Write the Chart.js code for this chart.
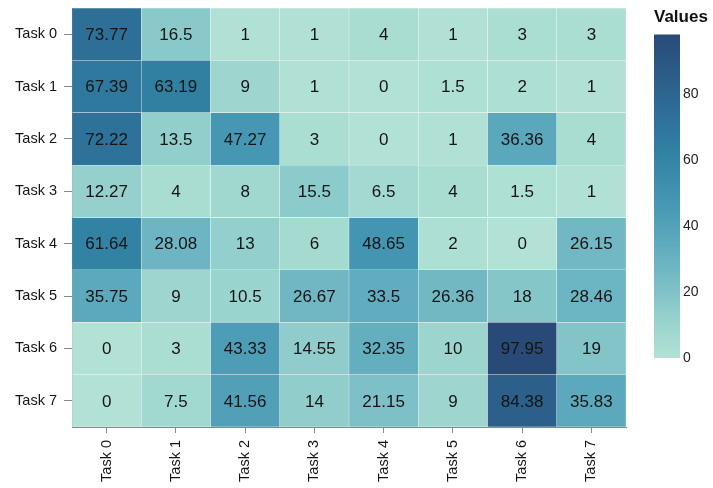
<!DOCTYPE html>
<html>
<head>
<meta charset="utf-8">
<script src="https://cdn.jsdelivr.net/npm/chart.js@4.4.0/dist/chart.umd.min.js"></script>
<style>
  html, body { margin: 0; padding: 0; background: #fff; }
  #wrap { position: relative; width: 713px; height: 488px; }
  #main { position: absolute; left: 0; top: 0; width: 713px; height: 488px; }
  #leg { position: absolute; left: 654px; top: 0; width: 59px; height: 370px; }
</style>
</head>
<body>
<div id="wrap">
  <div id="main"><canvas id="c1"></canvas></div>
  <div id="leg"><canvas id="c2"></canvas></div>
</div>
<script>
// ---- data ----
const tasks = ["Task 0", "Task 1", "Task 2", "Task 3", "Task 4", "Task 5", "Task 6", "Task 7"];
const row0 = [73.77, 16.5, 1, 1, 4, 1, 3, 3];
const row1 = [67.39, 63.19, 9, 1, 0, 1.5, 2, 1];
const row2 = [72.22, 13.5, 47.27, 3, 0, 1, 36.36, 4];
const row3 = [12.27, 4, 8, 15.5, 6.5, 4, 1.5, 1];
const row4 = [61.64, 28.08, 13, 6, 48.65, 2, 0, 26.15];
const row5 = [35.75, 9, 10.5, 26.67, 33.5, 26.36, 18, 28.46];
const row6 = [0, 3, 43.33, 14.55, 32.35, 10, 97.95, 19];
const row7 = [0, 7.5, 41.56, 14, 21.15, 9, 84.38, 35.83];
const rows = [row0, row1, row2, row3, row4, row5, row6, row7];
const legendTicks = [0, 20, 40, 60, 80];
const legendTitle = "Values";

// ---- colour scale ----
const vmin = 0;
const vmax = Math.max(...rows.flat());
const stops = [
  [0.00, [178, 226, 213]],
  [0.10, [156, 213, 206]],
  [0.20, [129, 195, 200]],
  [0.35, [95, 171, 190]],
  [0.48, [70, 151, 180]],
  [0.63, [50, 130, 164]],
  [0.75, [46, 111, 152]],
  [0.86, [44, 95, 138]],
  [1.00, [41, 74, 119]]
];
function colorFor(v) {
  const t = Math.max(0, Math.min(1, (v - vmin) / (vmax - vmin)));
  for (let i = 1; i < stops.length; i++) {
    if (t <= stops[i][0]) {
      const [t0, c0] = stops[i - 1], [t1, c1] = stops[i];
      const f = (t - t0) / (t1 - t0);
      const c = c0.map((x, k) => Math.round(x + (c1[k] - x) * f));
      return `rgb(${c[0]},${c[1]},${c[2]})`;
    }
  }
  const c = stops[stops.length - 1][1];
  return `rgb(${c[0]},${c[1]},${c[2]})`;
}

const FONT = "'Liberation Sans', Arial, Helvetica, sans-serif";

// datasets stacked bottom-to-top: last task at bottom
const datasets = rows.map((r, i) => ({ r, i })).reverse().map(({ r, i }) => ({
  label: tasks[i],
  values: r,
  data: r.map(() => 1),
  backgroundColor: r.map(v => colorFor(v)),
  borderColor: 'rgba(255,255,255,0.3)',
  borderWidth: 0.5,
  borderSkipped: false,
  barPercentage: 1,
  categoryPercentage: 1
}));

const cellLabels = {
  id: 'cellLabels',
  afterDatasetsDraw(chart) {
    const ctx = chart.ctx;
    ctx.save();
    ctx.font = `17px ${FONT}`;
    ctx.fillStyle = '#151515';
    ctx.textAlign = 'center';
    ctx.textBaseline = 'middle';
    chart.data.datasets.forEach((ds, di) => {
      const meta = chart.getDatasetMeta(di);
      meta.data.forEach((bar, j) => {
        const cy = (bar.y + bar.base) / 2;
        ctx.fillText(String(ds.values[j]), bar.x, cy + 1);
      });
    });
    ctx.restore();
  }
};

new Chart(document.getElementById('c1'), {
  type: 'bar',
  data: { labels: tasks, datasets },
  options: {
    responsive: true,
    maintainAspectRatio: false,
    animation: false,
    layout: { padding: { top: 8, right: 87, left: 0, bottom: 0 } },
    plugins: { legend: { display: false }, tooltip: { enabled: false } },
    scales: {
      x: {
        stacked: true,
        offset: true,
        grid: { display: true, drawOnChartArea: false, offset: false, tickLength: 6, color: '#888' },
        border: { display: true, color: '#888', width: 1 },
        ticks: { color: '#151515', font: { family: FONT, size: 14.5 }, minRotation: 90, maxRotation: 90, padding: 7 },
        afterFit(scale) { scale.height = 61; }
      },
      y: {
        stacked: true,
        min: 0,
        max: 8,
        grid: { display: true, drawOnChartArea: false, tickLength: 8, color: '#888' },
        border: { display: true, color: '#888', width: 1 },
        afterBuildTicks(scale) { scale.ticks = tasks.map((t, i) => ({ value: tasks.length - 0.5 - i })); },
        ticks: {
          color: '#151515',
          font: { family: FONT, size: 14.5 },
          padding: 7,
          callback: (v) => tasks[Math.round(tasks.length - 0.5 - v)]
        },
        afterFit(scale) { scale.width = 72; scale.paddingTop = 0; scale.paddingBottom = 0; }
      }
    }
  },
  plugins: [cellLabels]
});

// ---- legend chart ----
new Chart(document.getElementById('c2'), {
  type: 'bar',
  data: {
    labels: [legendTitle],
    datasets: [{
      data: [[vmin, vmax]],
      barPercentage: 1,
      categoryPercentage: 1,
      borderWidth: 0,
      backgroundColor(c) {
        const area = c.chart.chartArea;
        if (!area) return colorFor(vmin);
        const g = c.chart.ctx.createLinearGradient(0, area.bottom, 0, area.top);
        stops.forEach(([t]) => g.addColorStop(t, colorFor(vmin + t * (vmax - vmin))));
        return g;
      }
    }]
  },
  options: {
    responsive: true,
    maintainAspectRatio: false,
    animation: false,
    layout: { padding: { top: 0, left: 0, right: 0, bottom: 12 } },
    plugins: {
      legend: { display: false },
      tooltip: { enabled: false },
      title: {
        display: true,
        text: legendTitle,
        align: 'start',
        color: '#111',
        font: { family: FONT, size: 17, weight: 'bold' },
        padding: { top: 7, bottom: 7 }
      }
    },
    scales: {
      x: { display: false },
      y: {
        position: 'right',
        min: vmin,
        max: vmax,
        afterBuildTicks(scale) { scale.ticks = legendTicks.map(v => ({ value: v })); },
        grid: { display: false, drawTicks: false },
        border: { display: false },
        ticks: { color: '#222', font: { family: FONT, size: 14 }, padding: 3 },
        afterFit(scale) { scale.width = 33; }
      }
    }
  }
});
</script>
</body>
</html>
